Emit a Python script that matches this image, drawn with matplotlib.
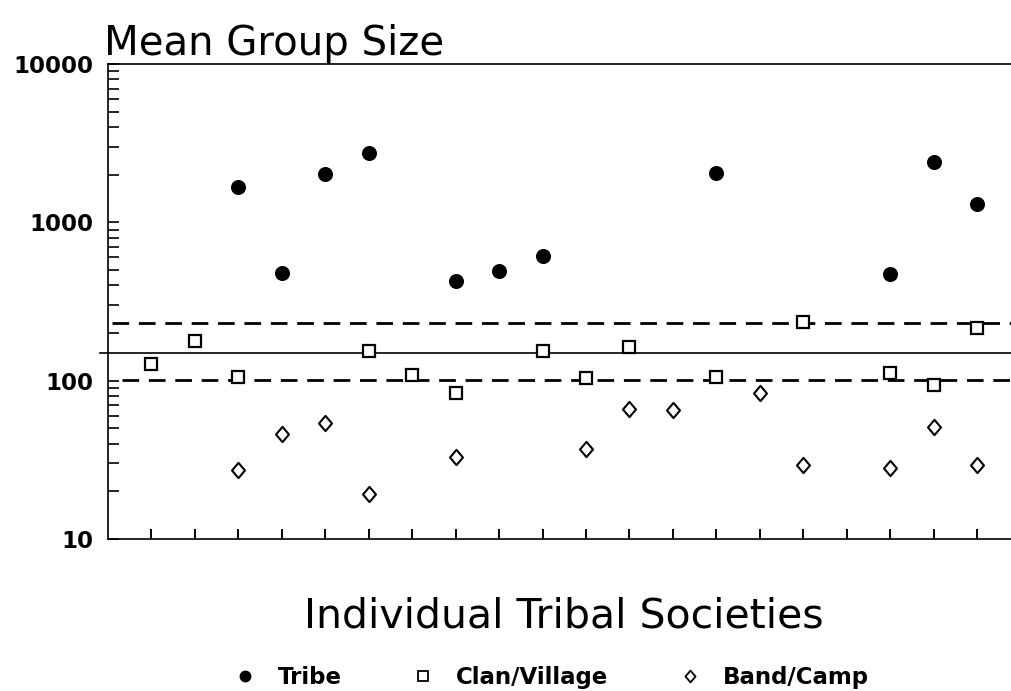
import numpy as np
import matplotlib
matplotlib.use("Agg")
import matplotlib.pyplot as plt
from matplotlib.lines import Line2D
from matplotlib.path import Path

plt.rcParams['font.family'] = ['DejaVu Sans']

# society index on the x axis (1..20)
tribe_x = [3, 4, 5, 6, 8, 9, 10, 14, 18, 19, 20]
tribe_y = [1670, 476, 2010, 2730, 429, 490, 609, 2040, 469, 2400, 1300]

clan_x = [1, 2, 3, 6, 7, 8, 10, 11, 12, 14, 16, 18, 19, 20]
clan_y = [128, 179, 106, 155, 108, 84, 155, 104, 164, 106, 233, 111, 94, 216]

band_x = [3, 4, 5, 6, 8, 11, 12, 13, 15, 16, 18, 19, 20]
band_y = [27.3, 46, 54, 19.3, 33, 37, 66.5, 65.5, 84, 29.4, 28.1, 51, 29.4]

# reference lines
upper_line = 232
mid_line = 150
lower_line = 101

tick_pos = list(range(1, 21))
ytick_vals = [10, 100, 1000, 10000]
ytick_labels = ['10', '100', '1000', '10000']

# wide-ish diamond marker
diamond = Path([(0, 1), (0.85, 0), (0, -1), (-0.85, 0), (0, 1)],
               [Path.MOVETO, Path.LINETO, Path.LINETO, Path.LINETO, Path.CLOSEPOLY])

fig = plt.figure(figsize=(10.11, 6.91), dpi=100)
ax = fig.add_axes([0.1068, 0.22, 1 - 0.1068, 0.6874])

ax.set_yscale('log')
ax.set_ylim(10, 10000)
ax.set_xlim(0, 20.78)

# horizontal lines
ax.axhline(upper_line, color='black', lw=2.0, dashes=(6, 3.5), xmin=0.005)
ax.axhline(mid_line, color='black', lw=1.2, xmin=-0.009, clip_on=False)
ax.axhline(lower_line, color='black', lw=2.0, dashes=(6, 3.5), xmin=0.015)

ax.plot(tribe_x, tribe_y, 'o', ms=9.8, color='black', zorder=3)
ax.plot(clan_x, clan_y, 's', ms=9.0, mfc='white', mec='black', mew=1.6, zorder=3)
ax.plot(band_x, band_y, marker=diamond, ls='none', ms=11, mfc='white',
        mec='black', mew=1.5, zorder=3)

# axes styling
ax.spines['right'].set_visible(False)
for s in ['left', 'top', 'bottom']:
    ax.spines[s].set_linewidth(1.2)

ax.set_xticks(tick_pos)
ax.set_xticklabels([])
ax.tick_params(axis='x', direction='in', length=7.5, width=1.4)

ax.set_yticks(ytick_vals)
ax.set_yticklabels(ytick_labels, fontsize=16.5, fontweight='bold')
ax.yaxis.set_minor_locator(matplotlib.ticker.LogLocator(base=10, subs=np.arange(2, 10)))
ax.yaxis.set_minor_formatter(matplotlib.ticker.NullFormatter())
ax.tick_params(axis='y', which='both', direction='in', length=8, width=1.2, pad=10.5)

ax.set_title('Mean Group Size', loc='left', fontsize=29, pad=5, x=-0.004)

fig.text(0.5574, 1 - 627 / 691, 'Individual Tribal Societies', fontsize=29.5,
         ha='center', va='baseline')

handles = [
    Line2D([], [], marker='o', ls='none', ms=7.5, color='black'),
    Line2D([], [], marker='s', ls='none', ms=7, mfc='white', mec='black', mew=1.3),
    Line2D([], [], marker=diamond, ls='none', ms=8.5, mfc='white', mec='black', mew=1.3),
]
fig.legend(handles, ['Tribe', 'Clan/Village', 'Band/Camp'], loc='center',
           bbox_to_anchor=(0.548, 0.02), ncol=3, frameon=False,
           prop={'size': 16.5, 'weight': 'bold'}, handlelength=0.5,
           handletextpad=1.2, columnspacing=3.3)

fig.savefig('out.png', dpi=100)
